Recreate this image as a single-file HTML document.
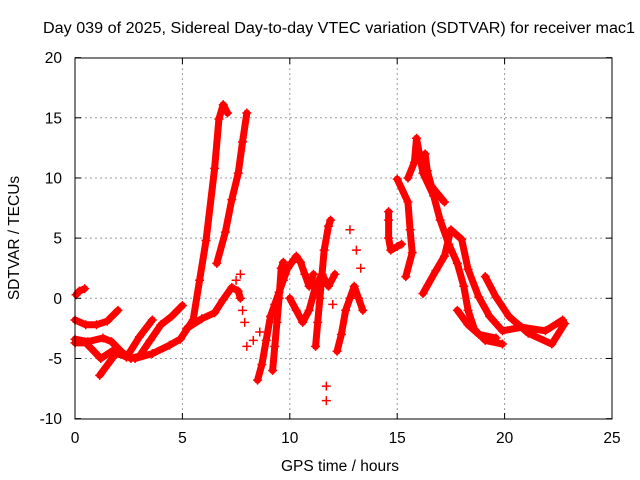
<!DOCTYPE html>
<html><head><meta charset="utf-8"><style>
body{margin:0;background:#fff}
svg{display:block;font-family:"Liberation Sans",sans-serif}
</style></head><body>
<svg id="chart" width="640" height="480" xmlns="http://www.w3.org/2000/svg">
<text x="339" y="33" font-size="15.5" text-anchor="middle" textLength="592" lengthAdjust="spacingAndGlyphs">Day 039 of 2025, Sidereal Day-to-day VTEC variation (SDTVAR) for receiver mac1</text>
<g id="grid"></g>
<g id="marks"></g>
<rect x="75" y="58" width="537" height="361" fill="none" stroke="#000" stroke-width="1"/>
<g id="ticks"></g>
<text x="340" y="471" font-size="15.5" text-anchor="middle">GPS time / hours</text>
<text x="19" y="238" font-size="15.5" text-anchor="middle" transform="rotate(-90 19 238)">SDTVAR / TECUs</text>
</svg>
<script>
const xTicks=[0,5,10,15,20,25];
const yTicks=[-10,-5,0,5,10,15,20];
const T0h=[0.05,0.2,0.45];const T0v=[0.3,0.6,0.8];
const T1h=[0,0.5,1,1.5,2];const T1v=[-1.8,-2.2,-2.2,-1.9,-1.0];
const T2h=[0,0.6,1.3,1.7,2.2,2.6,3,3.5,4,4.5,5];const T2v=[-3.4,-3.6,-3.3,-3.6,-4.5,-5,-4.8,-3.5,-2.2,-1.5,-0.6];
const T2bh=[0,0.5,1.2,1.8,2.4,3,3.6];const T2bv=[-3.7,-3.7,-5.0,-4.3,-4.9,-3.2,-1.8];
const T3h=[1.15,1.9,2.8,3.6,4.4,4.9,5.5,5.8,6.1,6.5,6.7,6.9,7.1];const T3v=[-6.4,-4.6,-5,-4.6,-3.9,-3.4,-1.8,1.5,4.8,10.8,14.9,16.1,15.4];
const T4h=[5.2,5.9,6.5,6.9,7.3,7.6,7.7];const T4v=[-2.5,-1.7,-1.2,-0.1,0.9,0.6,0];
const T5h=[6.6,7,7.3,7.6,7.8,8.0];const T5v=[2.9,5.5,8.2,10.4,13,15.4];
const M1h=[8.5,8.7,8.9,9.1,9.3,9.5,9.7,9.9,10.1,10.3,10.5,10.7,10.9,11.1];const M1v=[-6.8,-5.5,-3.5,-1.5,-0.5,0.5,1.5,2.5,3,3.5,3,2,1,2];
const M2h=[9.2,9.3,9.4,9.5,9.6,9.7];const M2v=[-6,-4,-2,0,2.5,3];
const M3h=[11.2,11.3,11.4,11.5,11.6,11.8,11.9];const M3v=[-4,-2,0,2,4,6,6.5];
const M4h=[12.2,12.4,12.6,12.8,13,13.2,13.4];const M4v=[-4.4,-3,-1,0,1,0,-1];
const M5h=[10,10.3,10.6,10.9,11.2,11.5,11.8,12.1];const M5v=[0,-1,-2,-1,1,2,1,2];
const R0h=[14.6,14.6,14.6,14.7,15,15.2];const R0v=[7.2,6.5,5,4,4.3,4.5];
const R1h=[15,15.5,15.6,15.7,15.4];const R1v=[9.9,8,5.7,3.8,1.8];
const R2h=[15.5,15.8,15.9,16.2,16.7,17,17.4,17.8,18.1,18.3,18.6,19.1,19.9];const R2v=[10,11.3,13.3,10.4,8.5,6.5,4.5,2.9,1,-1,-2.6,-3.5,-3.8];
const R3h=[16.2,16.8,17.2,17.5,18,18.3,18.8,19.3,19.9,20.8,21.9,22.7];const R3v=[0.4,2.3,3.5,5.7,4.9,2.4,0.1,-1.5,-2.7,-2.4,-2.7,-1.8];
const R4h=[19.1,19.6,20.2,21.1,22.2,22.8];const R4v=[1.8,0.1,-1.5,-2.9,-3.8,-2.1];
const R5h=[17.8,18.3,18.8,19.6];const R5v=[-1,-2.2,-3,-3.3];
const R6h=[16.3,16.4,16.6,17.2];const R6v=[12,10.6,9.3,8];
const Sh=[7.9,8.0,7.8,11.7,11.7,12.8,13.1,13.3,12.0,8.3,8.6,7.5,7.7];
const Sv=[-2,-4,-1,-7.3,-8.5,5.7,4,2.5,-0.5,-3.5,-2.8,1.5,2];
const tracks=[[T0h,T0v],[T1h,T1v],[T2h,T2v],[T2bh,T2bv],[T3h,T3v],[T4h,T4v],[T5h,T5v],[M1h,M1v],[M2h,M2v],[M3h,M3v],[M4h,M4v],[M5h,M5v],[R0h,R0v],[R1h,R1v],[R2h,R2v],[R3h,R3v],[R4h,R4v],[R5h,R5v],[R6h,R6v]];
const X=h=>75+h*537/25, Y=v=>298.3-v*361/30;
const NS="http://www.w3.org/2000/svg";
const mk=(t,a,p)=>{const e=document.createElementNS(NS,t);for(const k in a)e.setAttribute(k,a[k]);p.appendChild(e);return e;};
const grid=document.getElementById('grid'),ticks=document.getElementById('ticks'),marks=document.getElementById('marks');
xTicks.forEach(t=>{const x=X(t);
 if(t>0&&t<25){const g=mk('line',{x1:x,x2:x,y1:58,y2:419,stroke:'#999','stroke-dasharray':'2,3'},grid);
 
 }
 mk('line',{x1:x,x2:x,y1:419,y2:413,stroke:'#000'},ticks);mk('line',{x1:x,x2:x,y1:58,y2:64,stroke:'#000'},ticks);
 const l=mk('text',{x:x,y:443,'font-size':15.5,'text-anchor':'middle'},ticks);l.textContent=t;
 
 });
yTicks.forEach(t=>{const y=Y(t);
 if(t>-10&&t<20){const g=mk('line',{x1:75,x2:612,y1:y,y2:y,stroke:'#999','stroke-dasharray':'2,3'},grid);
 
 }
 mk('line',{x1:75,x2:81,y1:y,y2:y,stroke:'#000'},ticks);mk('line',{x1:606,x2:612,y1:y,y2:y,stroke:'#000'},ticks);
 const l=mk('text',{x:62,y:y+5.5,'font-size':15.5,'text-anchor':'end'},ticks);l.textContent=t;
 
 });
const plus=(h,v)=>{const x=X(h),y=Y(v);const p=mk('path',{d:`M${x-4.5},${y}h9M${x},${y-4.5}v9`,stroke:'#f00','stroke-width':1.5},marks);
 
 };
tracks.forEach(([hs,vs])=>{
 const pts=hs.map((h,i)=>X(h)+','+Y(vs[i])).join(' ');
 const pl=mk('polyline',{points:pts,fill:'none',stroke:'#f00','stroke-width':7,'stroke-linejoin':'round','stroke-linecap':'round'},marks);
 
 
 hs.forEach((h,i)=>plus(h,vs[i]));});
Sh.forEach((h,i)=>plus(h,Sv[i]));
</script>
</body></html>
